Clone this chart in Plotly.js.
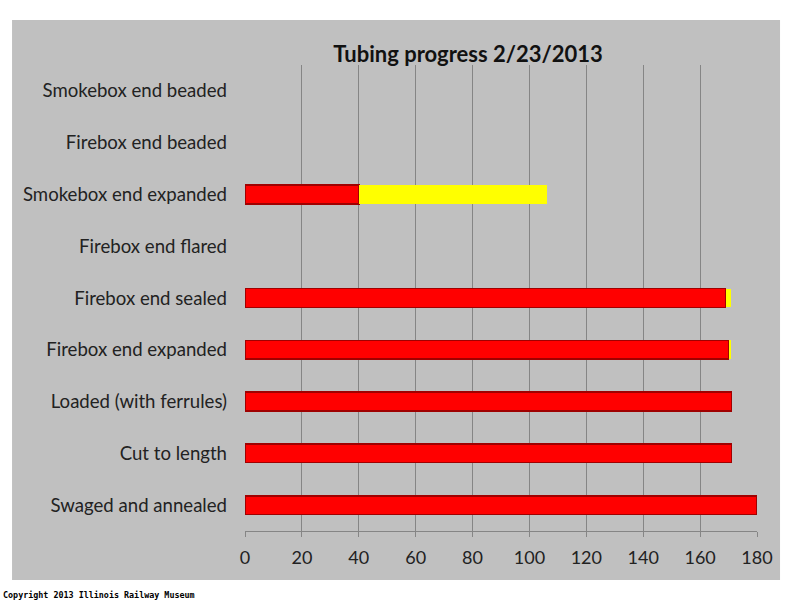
<!DOCTYPE html>
<html><head><meta charset="utf-8">
<script src="https://cdn.plot.ly/plotly-3.0.1.min.js"></script>
<style>html,body{margin:0;padding:0;background:#fff}</style>
</head><body>
<div id="chart" style="width:800px;height:600px"></div>
<script>
var categories = ["Swaged and annealed","Cut to length","Loaded (with ferrules)","Firebox end expanded","Firebox end sealed","Firebox end flared","Smokebox end expanded","Firebox end beaded","Smokebox end beaded"];
var completed = [180, 171, 171, 170, 169, null, 40, null, null];
var inProgress = [null, null, null, 1, 2, null, 66, null, null];
var xTicks = [0,20,40,60,80,100,120,140,160,180];

var traces = [
  {type:'bar', orientation:'h', y:categories, x:completed, name:'Completed',
   marker:{color:'#ff0000', line:{color:'#a00000', width:1.5}}, width:0.36, hoverinfo:'x+y'},
  {type:'bar', orientation:'h', y:categories, x:inProgress, name:'In progress',
   marker:{color:'#ffff00', line:{color:'#ffff00', width:0}}, width:0.36, hoverinfo:'x+y'}
];
var layout = {
  width:800, height:600, barmode:'stack', showlegend:false,
  paper_bgcolor:'#ffffff', plot_bgcolor:'rgba(0,0,0,0)',
  margin:{l:245, r:43, t:65, b:69},
  font:{family:'Lato, "Open Sans", sans-serif', size:18, color:'#222'},
  title:{text:'<b>Tubing progress 2/23/2013</b>', x:0.585, xanchor:'center', y:0.91, yanchor:'middle',
         font:{size:22, color:'#111', family:'Lato, "Open Sans", sans-serif'}},
  xaxis:{range:[0,180], tickvals:xTicks, ticktext:xTicks.map(String), showgrid:true, gridcolor:'#858585', gridwidth:1,
         zeroline:false, showline:true, linecolor:'#858585', linewidth:1, ticks:'outside', ticklen:5, tickcolor:'#858585',
         ticklabelstandoff:5, tickfont:{size:18, color:'#222'}, fixedrange:true},
  yaxis:{type:'category', categoryorder:'array', categoryarray:categories, showgrid:false, zeroline:false,
         showline:false, ticks:'', ticklabelstandoff:17, tickfont:{size:18.6, color:'#222'}, fixedrange:true},
  shapes:[{type:'rect', xref:'paper', yref:'paper', x0:-0.455, x1:1.045, y0:-0.105, y1:1.0966,
           fillcolor:'#c0c0c0', line:{width:0}, layer:'below'}],
  annotations:[{xref:'paper', yref:'paper', x:-0.476, y:-0.137, xanchor:'left', yanchor:'middle', showarrow:false,
                text:'<b>Copyright 2013 Illinois Railway Museum</b>', font:{family:'"DejaVu Sans Mono", monospace', size:8.4, color:'#000'}}]
};
Plotly.newPlot('chart', traces, layout, {displayModeBar:false, staticPlot:true});
</script>
</body></html>
